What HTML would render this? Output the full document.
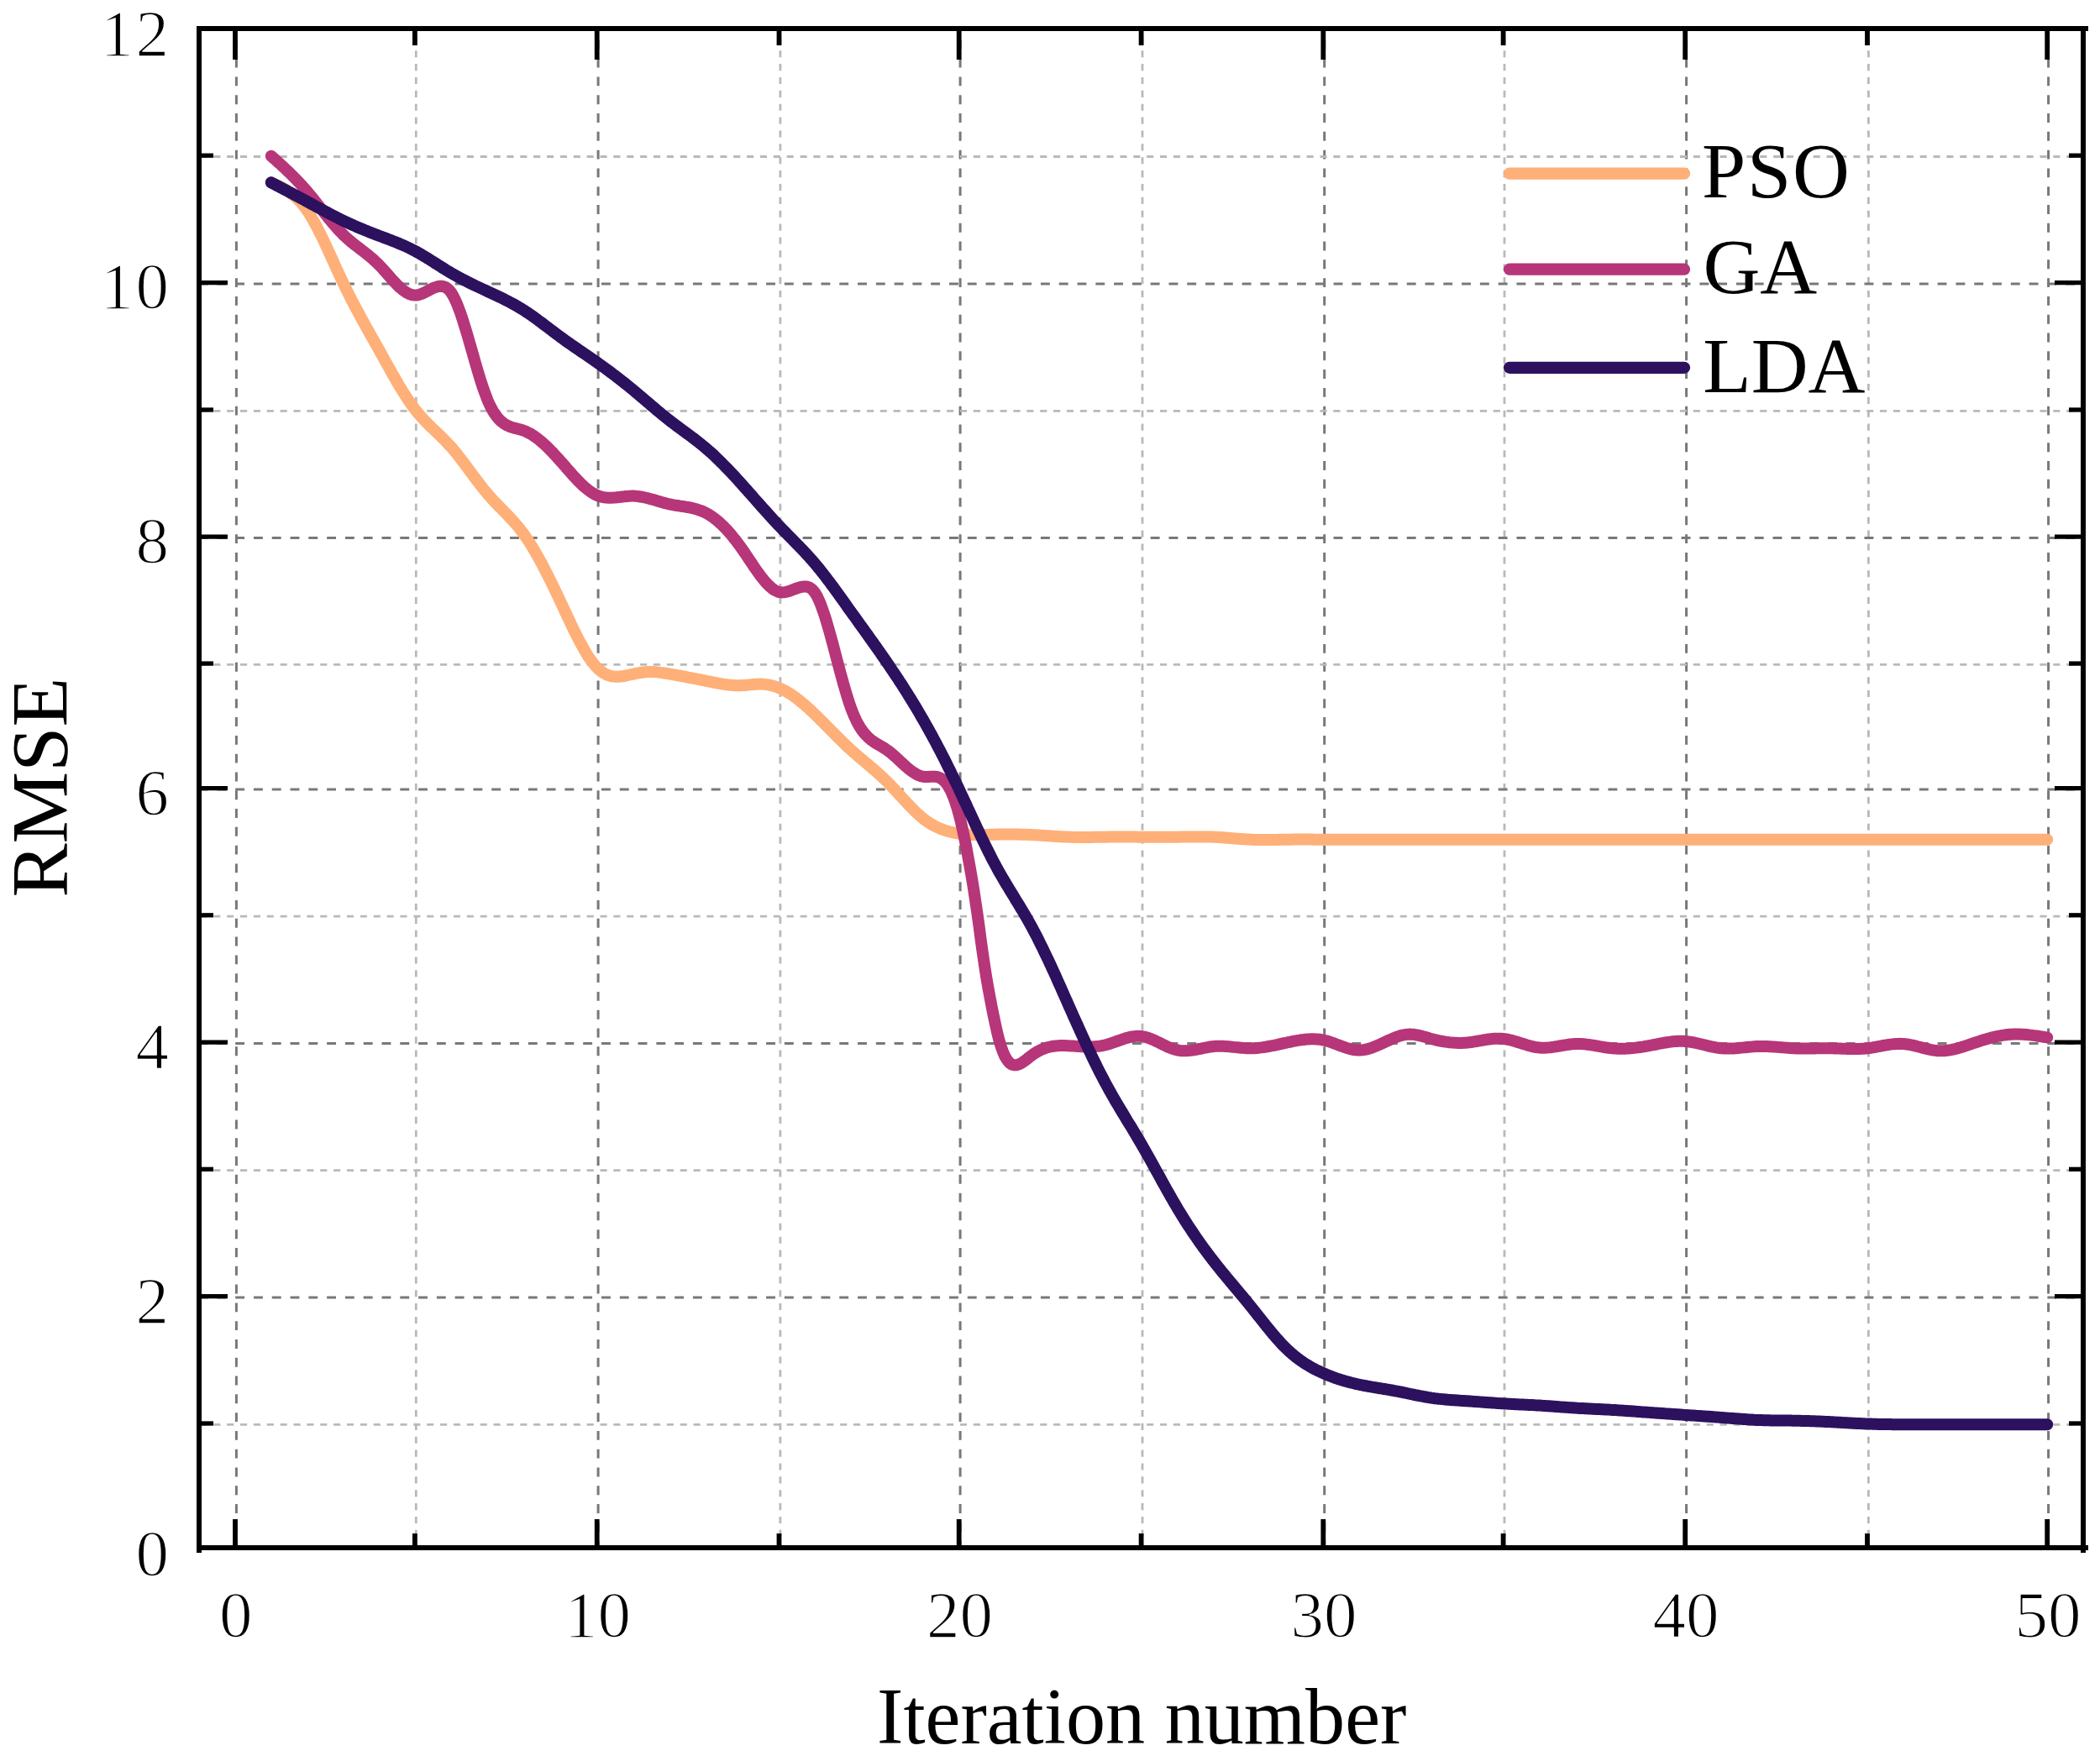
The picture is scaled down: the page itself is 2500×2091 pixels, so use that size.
<!DOCTYPE html>
<html lang="en">
<head>
<meta charset="utf-8">
<title>RMSE vs Iteration number</title>
<style>html,body{margin:0;padding:0;background:#fff}svg{display:block}</style>
</head>
<body>
<svg width="2500" height="2091" viewBox="0 0 2500 2091">
<rect width="2500" height="2091" fill="#ffffff"/>
<g fill="none" stroke-linecap="butt">
<line x1="281.4" y1="37.0" x2="281.4" y2="1840.0" stroke="#787878" stroke-width="3.0" stroke-dasharray="10.9 10.89" stroke-dashoffset="10.9"/>
<line x1="495.3" y1="37.0" x2="495.3" y2="1840.0" stroke="#b9b9b9" stroke-width="2.8" stroke-dasharray="8.1 7.77" stroke-dashoffset="8.5"/>
<line x1="712.1" y1="37.0" x2="712.1" y2="1840.0" stroke="#787878" stroke-width="3.0" stroke-dasharray="10.9 10.89" stroke-dashoffset="10.9"/>
<line x1="928.9" y1="37.0" x2="928.9" y2="1840.0" stroke="#b9b9b9" stroke-width="2.8" stroke-dasharray="8.1 7.77" stroke-dashoffset="8.5"/>
<line x1="1143.1" y1="37.0" x2="1143.1" y2="1840.0" stroke="#787878" stroke-width="3.0" stroke-dasharray="10.9 10.89" stroke-dashoffset="10.9"/>
<line x1="1360.0" y1="37.0" x2="1360.0" y2="1840.0" stroke="#b9b9b9" stroke-width="2.8" stroke-dasharray="8.1 7.77" stroke-dashoffset="8.5"/>
<line x1="1576.7" y1="37.0" x2="1576.7" y2="1840.0" stroke="#787878" stroke-width="3.0" stroke-dasharray="10.9 10.89" stroke-dashoffset="10.9"/>
<line x1="1791.0" y1="37.0" x2="1791.0" y2="1840.0" stroke="#b9b9b9" stroke-width="2.8" stroke-dasharray="8.1 7.77" stroke-dashoffset="8.5"/>
<line x1="2007.6" y1="37.0" x2="2007.6" y2="1840.0" stroke="#787878" stroke-width="3.0" stroke-dasharray="10.9 10.89" stroke-dashoffset="10.9"/>
<line x1="2224.4" y1="37.0" x2="2224.4" y2="1840.0" stroke="#b9b9b9" stroke-width="2.8" stroke-dasharray="8.1 7.77" stroke-dashoffset="8.5"/>
<line x1="2438.6" y1="37.0" x2="2438.6" y2="1840.0" stroke="#787878" stroke-width="3.0" stroke-dasharray="10.9 10.89" stroke-dashoffset="10.9"/>
<line x1="240.0" y1="1696.3" x2="2477.0" y2="1696.3" stroke="#b9b9b9" stroke-width="2.8" stroke-dasharray="8.1 7.77" stroke-dashoffset="1.6"/>
<line x1="240.0" y1="1545.0" x2="2477.0" y2="1545.0" stroke="#787878" stroke-width="3.0" stroke-dasharray="10.9 10.89" stroke-dashoffset="3.4"/>
<line x1="240.0" y1="1393.6" x2="2477.0" y2="1393.6" stroke="#b9b9b9" stroke-width="2.8" stroke-dasharray="8.1 7.77" stroke-dashoffset="1.6"/>
<line x1="240.0" y1="1242.4" x2="2477.0" y2="1242.4" stroke="#787878" stroke-width="3.0" stroke-dasharray="10.9 10.89" stroke-dashoffset="3.4"/>
<line x1="240.0" y1="1091.1" x2="2477.0" y2="1091.1" stroke="#b9b9b9" stroke-width="2.8" stroke-dasharray="8.1 7.77" stroke-dashoffset="1.6"/>
<line x1="240.0" y1="940.0" x2="2477.0" y2="940.0" stroke="#787878" stroke-width="3.0" stroke-dasharray="10.9 10.89" stroke-dashoffset="3.4"/>
<line x1="240.0" y1="791.4" x2="2477.0" y2="791.4" stroke="#b9b9b9" stroke-width="2.8" stroke-dasharray="8.1 7.77" stroke-dashoffset="1.6"/>
<line x1="240.0" y1="640.4" x2="2477.0" y2="640.4" stroke="#787878" stroke-width="3.0" stroke-dasharray="10.9 10.89" stroke-dashoffset="3.4"/>
<line x1="240.0" y1="489.3" x2="2477.0" y2="489.3" stroke="#b9b9b9" stroke-width="2.8" stroke-dasharray="8.1 7.77" stroke-dashoffset="1.6"/>
<line x1="240.0" y1="337.9" x2="2477.0" y2="337.9" stroke="#787878" stroke-width="3.0" stroke-dasharray="10.9 10.89" stroke-dashoffset="3.4"/>
<line x1="240.0" y1="186.5" x2="2477.0" y2="186.5" stroke="#b9b9b9" stroke-width="2.8" stroke-dasharray="8.1 7.77" stroke-dashoffset="1.6"/>
</g>
<g fill="none" stroke-width="14" stroke-linecap="round" stroke-linejoin="round">
<polyline stroke="#feb078" points="322.8,217.3 324.9,218.3 327.1,219.2 329.2,220.2 331.3,221.2 333.5,222.2 335.6,223.3 337.8,224.5 339.9,225.7 342.0,227.1 344.2,228.5 346.3,230.0 348.4,231.7 350.6,233.4 352.7,235.4 354.9,237.5 357.0,239.7 359.1,242.1 361.3,244.7 363.4,247.5 365.6,250.5 367.7,253.7 369.8,257.2 372.0,260.8 374.1,264.6 376.3,268.5 378.4,272.6 380.5,276.8 382.7,281.2 384.8,285.6 387.0,290.1 389.1,294.7 391.2,299.3 393.4,304.0 395.5,308.7 397.6,313.4 399.8,318.1 401.9,322.8 404.1,327.4 406.2,332.0 408.3,336.5 410.5,340.9 412.6,345.3 414.8,349.6 416.9,353.8 419.0,358.0 421.2,362.1 423.3,366.2 425.5,370.2 427.6,374.1 429.7,378.1 431.9,382.0 434.0,385.8 436.1,389.7 438.3,393.5 440.4,397.4 442.6,401.2 444.7,405.0 446.8,408.8 449.0,412.6 451.1,416.4 453.3,420.3 455.4,424.1 457.5,428.0 459.7,431.9 461.8,435.7 464.0,439.5 466.1,443.3 468.2,447.1 470.4,450.8 472.5,454.5 474.6,458.2 476.8,461.7 478.9,465.3 481.1,468.7 483.2,472.0 485.3,475.3 487.5,478.5 489.6,481.5 491.8,484.5 493.9,487.3 496.1,490.0 498.2,492.7 500.4,495.2 502.6,497.6 504.7,499.9 506.9,502.2 509.1,504.4 511.2,506.5 513.4,508.7 515.6,510.8 517.7,512.8 519.9,514.9 522.1,517.0 524.3,519.1 526.4,521.2 528.6,523.4 530.8,525.6 532.9,527.8 535.1,530.2 537.3,532.6 539.4,535.1 541.6,537.7 543.8,540.3 545.9,543.1 548.1,545.8 550.3,548.7 552.4,551.5 554.6,554.4 556.8,557.4 558.9,560.3 561.1,563.2 563.3,566.2 565.4,569.1 567.6,572.0 569.8,574.8 571.9,577.7 574.1,580.4 576.3,583.2 578.5,585.8 580.6,588.4 582.8,590.9 585.0,593.3 587.1,595.7 589.3,598.0 591.5,600.2 593.6,602.5 595.8,604.7 598.0,606.9 600.1,609.1 602.3,611.3 604.5,613.6 606.6,615.8 608.8,618.2 611.0,620.5 613.1,623.0 615.3,625.5 617.5,628.1 619.6,630.9 621.8,633.7 624.0,636.7 626.1,639.7 628.3,642.9 630.5,646.3 632.7,649.7 634.8,653.3 637.0,657.0 639.2,660.7 641.3,664.6 643.5,668.5 645.7,672.6 647.8,676.7 650.0,680.9 652.2,685.2 654.3,689.5 656.5,693.9 658.7,698.4 660.8,702.9 663.0,707.4 665.2,712.0 667.3,716.6 669.5,721.2 671.7,725.9 673.8,730.5 676.0,735.2 678.2,739.8 680.3,744.4 682.5,748.9 684.7,753.3 686.9,757.6 689.0,761.8 691.2,765.9 693.4,769.9 695.5,773.7 697.7,777.4 699.9,780.9 702.0,784.2 704.2,787.2 706.4,790.1 708.5,792.7 710.7,795.0 712.9,797.1 715.0,798.9 717.2,800.5 719.4,801.9 721.5,803.0 723.7,803.9 725.9,804.6 728.0,805.2 730.2,805.5 732.4,805.7 734.5,805.8 736.7,805.7 738.9,805.5 741.1,805.3 743.2,804.9 745.4,804.5 747.6,804.0 749.7,803.5 751.9,803.0 754.1,802.6 756.2,802.1 758.4,801.7 760.6,801.3 762.7,801.0 764.9,800.7 767.1,800.4 769.2,800.2 771.4,800.1 773.6,800.0 775.7,800.0 777.9,800.1 780.1,800.2 782.2,800.4 784.4,800.6 786.6,800.9 788.7,801.1 790.9,801.5 793.1,801.8 795.3,802.2 797.4,802.6 799.6,802.9 801.8,803.3 803.9,803.7 806.1,804.1 808.3,804.5 810.4,804.9 812.6,805.3 814.8,805.7 816.9,806.1 819.1,806.6 821.3,807.0 823.4,807.4 825.6,807.8 827.8,808.2 829.9,808.7 832.1,809.1 834.3,809.5 836.4,810.0 838.6,810.4 840.8,810.9 842.9,811.3 845.1,811.7 847.3,812.2 849.5,812.6 851.6,813.0 853.8,813.4 856.0,813.8 858.1,814.2 860.3,814.6 862.5,814.9 864.6,815.2 866.8,815.5 869.0,815.7 871.1,815.9 873.3,816.0 875.5,816.2 877.6,816.2 879.8,816.3 882.0,816.2 884.1,816.1 886.3,816.0 888.5,815.8 890.6,815.6 892.8,815.4 895.0,815.2 897.1,815.0 899.3,814.8 901.5,814.7 903.7,814.6 905.8,814.6 908.0,814.7 910.2,814.9 912.3,815.1 914.5,815.4 916.7,815.9 918.8,816.3 921.0,816.9 923.2,817.6 925.3,818.3 927.5,819.2 929.6,820.1 931.8,821.1 933.9,822.2 936.1,823.4 938.2,824.7 940.4,826.0 942.5,827.4 944.6,828.9 946.8,830.4 948.9,832.0 951.1,833.7 953.2,835.4 955.3,837.2 957.5,839.0 959.6,840.9 961.8,842.8 963.9,844.8 966.1,846.8 968.2,848.8 970.3,850.8 972.5,852.9 974.6,855.0 976.8,857.1 978.9,859.3 981.1,861.4 983.2,863.6 985.3,865.7 987.5,867.9 989.6,870.1 991.8,872.2 993.9,874.4 996.0,876.6 998.2,878.7 1000.3,880.8 1002.5,882.9 1004.6,885.0 1006.8,887.1 1008.9,889.1 1011.0,891.1 1013.2,893.1 1015.3,895.0 1017.5,896.9 1019.6,898.8 1021.7,900.6 1023.9,902.4 1026.0,904.2 1028.2,906.0 1030.3,907.8 1032.5,909.6 1034.6,911.4 1036.7,913.2 1038.9,915.1 1041.0,916.9 1043.2,918.8 1045.3,920.7 1047.5,922.6 1049.6,924.6 1051.7,926.6 1053.9,928.7 1056.0,930.8 1058.2,932.9 1060.3,935.2 1062.4,937.4 1064.6,939.7 1066.7,942.0 1068.9,944.4 1071.0,946.7 1073.2,949.1 1075.3,951.4 1077.4,953.7 1079.6,956.0 1081.7,958.3 1083.9,960.5 1086.0,962.7 1088.2,964.9 1090.3,967.0 1092.4,969.0 1094.6,970.9 1096.7,972.8 1098.9,974.5 1101.0,976.2 1103.1,977.7 1105.3,979.2 1107.4,980.6 1109.6,981.9 1111.7,983.1 1113.9,984.2 1116.0,985.2 1118.1,986.2 1120.3,987.1 1122.4,987.9 1124.6,988.6 1126.7,989.3 1128.8,990.0 1131.0,990.5 1133.1,991.0 1135.3,991.5 1137.4,991.9 1139.6,992.3 1141.7,992.6 1143.9,992.9 1146.0,993.1 1148.2,993.3 1150.4,993.5 1152.5,993.7 1154.7,993.8 1156.9,993.9 1159.1,993.9 1161.2,994.0 1163.4,994.0 1165.6,994.0 1167.7,994.0 1169.9,994.0 1172.1,994.0 1174.2,993.9 1176.4,993.9 1178.6,993.8 1180.7,993.8 1182.9,993.7 1185.1,993.7 1187.2,993.6 1189.4,993.6 1191.6,993.6 1193.8,993.5 1195.9,993.5 1198.1,993.5 1200.3,993.5 1202.4,993.5 1204.6,993.5 1206.8,993.5 1208.9,993.5 1211.1,993.6 1213.3,993.6 1215.4,993.7 1217.6,993.7 1219.8,993.8 1222.0,993.8 1224.1,993.9 1226.3,994.0 1228.5,994.1 1230.6,994.2 1232.8,994.3 1235.0,994.5 1237.1,994.6 1239.3,994.7 1241.5,994.9 1243.6,995.0 1245.8,995.2 1248.0,995.3 1250.2,995.5 1252.3,995.6 1254.5,995.8 1256.7,995.9 1258.8,996.0 1261.0,996.2 1263.2,996.3 1265.3,996.4 1267.5,996.5 1269.7,996.6 1271.8,996.7 1274.0,996.8 1276.2,996.8 1278.3,996.9 1280.5,996.9 1282.7,996.9 1284.9,996.9 1287.0,996.9 1289.2,996.9 1291.4,996.9 1293.5,996.9 1295.7,996.9 1297.9,996.9 1300.0,996.9 1302.2,996.8 1304.4,996.8 1306.5,996.8 1308.7,996.8 1310.9,996.7 1313.1,996.7 1315.2,996.7 1317.4,996.7 1319.6,996.6 1321.7,996.6 1323.9,996.6 1326.1,996.6 1328.2,996.6 1330.4,996.6 1332.6,996.6 1334.7,996.6 1336.9,996.6 1339.1,996.6 1341.2,996.6 1343.4,996.6 1345.6,996.6 1347.8,996.6 1349.9,996.6 1352.1,996.6 1354.3,996.7 1356.4,996.7 1358.6,996.7 1360.8,996.7 1362.9,996.7 1365.1,996.7 1367.3,996.7 1369.4,996.7 1371.6,996.8 1373.8,996.8 1375.9,996.8 1378.1,996.8 1380.3,996.8 1382.4,996.8 1384.6,996.8 1386.8,996.8 1388.9,996.8 1391.1,996.8 1393.3,996.8 1395.4,996.7 1397.6,996.7 1399.8,996.7 1401.9,996.7 1404.1,996.7 1406.3,996.6 1408.4,996.6 1410.6,996.6 1412.8,996.5 1414.9,996.5 1417.1,996.4 1419.3,996.4 1421.4,996.4 1423.6,996.4 1425.8,996.4 1427.9,996.4 1430.1,996.4 1432.3,996.4 1434.4,996.4 1436.6,996.4 1438.8,996.5 1440.9,996.5 1443.1,996.6 1445.3,996.7 1447.4,996.8 1449.6,996.9 1451.8,997.0 1453.9,997.2 1456.1,997.3 1458.3,997.5 1460.4,997.7 1462.6,997.8 1464.8,998.0 1467.0,998.2 1469.1,998.4 1471.3,998.5 1473.5,998.7 1475.6,998.9 1477.8,999.0 1480.0,999.2 1482.1,999.3 1484.3,999.5 1486.5,999.6 1488.6,999.7 1490.8,999.8 1493.0,999.9 1495.1,999.9 1497.3,1000.0 1499.5,1000.0 1501.6,1000.0 1503.8,1000.0 1506.0,1000.0 1508.1,1000.0 1510.3,1000.0 1512.5,1000.0 1514.6,1000.0 1516.8,999.9 1519.0,999.9 1521.1,999.9 1523.3,999.8 1525.5,999.8 1527.6,999.8 1529.8,999.7 1532.0,999.7 1534.1,999.7 1536.3,999.7 1538.5,999.6 1540.6,999.6 1542.8,999.6 1545.0,999.6 1547.1,999.6 1549.3,999.6 1551.5,999.6 1553.6,999.6 1555.8,999.6 1558.0,999.6 1560.1,999.6 1562.3,999.6 1564.5,999.7 1566.6,999.7 1568.8,999.7 1571.0,999.7 1573.1,999.7 1575.3,999.7 1577.4,999.7 1579.6,999.7 1581.7,999.7 1583.9,999.7 1586.0,999.7 1588.2,999.7 1590.3,999.7 1592.4,999.7 1594.6,999.7 1596.7,999.7 1598.9,999.7 1601.0,999.7 1603.2,999.7 1605.3,999.7 1607.4,999.7 1609.6,999.7 1611.7,999.7 1613.9,999.7 1616.0,999.7 1618.2,999.7 1620.3,999.7 1622.4,999.7 1624.6,999.7 1626.7,999.7 1628.9,999.7 1631.0,999.7 1633.2,999.7 1635.3,999.7 1637.4,999.7 1639.6,999.7 1641.7,999.7 1643.9,999.7 1646.0,999.7 1648.2,999.7 1650.3,999.7 1652.4,999.7 1654.6,999.7 1656.7,999.7 1658.9,999.7 1661.0,999.7 1663.2,999.7 1665.3,999.7 1667.4,999.7 1669.6,999.7 1671.7,999.7 1673.9,999.7 1676.0,999.7 1678.2,999.7 1680.3,999.7 1682.5,999.7 1684.6,999.7 1686.7,999.7 1688.9,999.7 1691.0,999.7 1693.2,999.7 1695.3,999.7 1697.5,999.7 1699.6,999.7 1701.7,999.7 1703.9,999.7 1706.0,999.7 1708.2,999.7 1710.3,999.7 1712.5,999.7 1714.6,999.7 1716.7,999.7 1718.9,999.7 1721.0,999.7 1723.2,999.7 1725.3,999.7 1727.5,999.7 1729.6,999.7 1731.7,999.7 1733.9,999.7 1736.0,999.7 1738.2,999.7 1740.3,999.7 1742.5,999.7 1744.6,999.7 1746.7,999.7 1748.9,999.7 1751.0,999.7 1753.2,999.7 1755.3,999.7 1757.5,999.7 1759.6,999.7 1761.7,999.7 1763.9,999.7 1766.0,999.7 1768.2,999.7 1770.3,999.7 1772.5,999.7 1774.6,999.7 1776.7,999.7 1778.9,999.7 1781.0,999.7 1783.2,999.7 1785.3,999.7 1787.5,999.7 1789.6,999.7 1791.8,999.7 1793.9,999.7 1796.1,999.7 1798.3,999.7 1800.4,999.7 1802.6,999.7 1804.8,999.7 1806.9,999.7 1809.1,999.7 1811.3,999.7 1813.4,999.7 1815.6,999.7 1817.8,999.7 1819.9,999.7 1822.1,999.7 1824.3,999.7 1826.4,999.7 1828.6,999.7 1830.8,999.7 1832.9,999.7 1835.1,999.7 1837.3,999.7 1839.4,999.7 1841.6,999.7 1843.8,999.7 1845.9,999.7 1848.1,999.7 1850.2,999.7 1852.4,999.7 1854.6,999.7 1856.7,999.7 1858.9,999.7 1861.1,999.7 1863.2,999.7 1865.4,999.7 1867.6,999.7 1869.7,999.7 1871.9,999.7 1874.1,999.7 1876.2,999.7 1878.4,999.7 1880.6,999.7 1882.7,999.7 1884.9,999.7 1887.1,999.7 1889.2,999.7 1891.4,999.7 1893.6,999.7 1895.7,999.7 1897.9,999.7 1900.1,999.7 1902.2,999.7 1904.4,999.7 1906.6,999.7 1908.7,999.7 1910.9,999.7 1913.1,999.7 1915.2,999.7 1917.4,999.7 1919.6,999.7 1921.7,999.7 1923.9,999.7 1926.1,999.7 1928.2,999.7 1930.4,999.7 1932.6,999.7 1934.7,999.7 1936.9,999.7 1939.1,999.7 1941.2,999.7 1943.4,999.7 1945.6,999.7 1947.7,999.7 1949.9,999.7 1952.1,999.7 1954.2,999.7 1956.4,999.7 1958.5,999.7 1960.7,999.7 1962.9,999.7 1965.0,999.7 1967.2,999.7 1969.4,999.7 1971.5,999.7 1973.7,999.7 1975.9,999.7 1978.0,999.7 1980.2,999.7 1982.4,999.7 1984.5,999.7 1986.7,999.7 1988.9,999.7 1991.0,999.7 1993.2,999.7 1995.4,999.7 1997.5,999.7 1999.7,999.7 2001.9,999.7 2004.0,999.7 2006.2,999.7 2008.4,999.7 2010.5,999.7 2012.7,999.7 2014.9,999.7 2017.0,999.7 2019.2,999.7 2021.4,999.7 2023.5,999.7 2025.7,999.7 2027.9,999.7 2030.0,999.7 2032.2,999.7 2034.4,999.7 2036.6,999.7 2038.7,999.7 2040.9,999.7 2043.1,999.7 2045.2,999.7 2047.4,999.7 2049.6,999.7 2051.7,999.7 2053.9,999.7 2056.1,999.7 2058.2,999.7 2060.4,999.7 2062.6,999.7 2064.7,999.7 2066.9,999.7 2069.1,999.7 2071.2,999.7 2073.4,999.7 2075.6,999.7 2077.7,999.7 2079.9,999.7 2082.1,999.7 2084.2,999.7 2086.4,999.7 2088.6,999.7 2090.8,999.7 2092.9,999.7 2095.1,999.7 2097.3,999.7 2099.4,999.7 2101.6,999.7 2103.8,999.7 2105.9,999.7 2108.1,999.7 2110.3,999.7 2112.4,999.7 2114.6,999.7 2116.8,999.7 2118.9,999.7 2121.1,999.7 2123.3,999.7 2125.4,999.7 2127.6,999.7 2129.8,999.7 2131.9,999.7 2134.1,999.7 2136.3,999.7 2138.4,999.7 2140.6,999.7 2142.8,999.7 2145.0,999.7 2147.1,999.7 2149.3,999.7 2151.5,999.7 2153.6,999.7 2155.8,999.7 2158.0,999.7 2160.1,999.7 2162.3,999.7 2164.5,999.7 2166.6,999.7 2168.8,999.7 2171.0,999.7 2173.1,999.7 2175.3,999.7 2177.5,999.7 2179.6,999.7 2181.8,999.7 2184.0,999.7 2186.1,999.7 2188.3,999.7 2190.5,999.7 2192.6,999.7 2194.8,999.7 2197.0,999.7 2199.2,999.7 2201.3,999.7 2203.5,999.7 2205.7,999.7 2207.8,999.7 2210.0,999.7 2212.2,999.7 2214.3,999.7 2216.5,999.7 2218.7,999.7 2220.8,999.7 2223.0,999.7 2225.1,999.7 2227.3,999.7 2229.4,999.7 2231.6,999.7 2233.7,999.7 2235.9,999.7 2238.0,999.7 2240.1,999.7 2242.3,999.7 2244.4,999.7 2246.6,999.7 2248.7,999.7 2250.8,999.7 2253.0,999.7 2255.1,999.7 2257.3,999.7 2259.4,999.7 2261.6,999.7 2263.7,999.7 2265.8,999.7 2268.0,999.7 2270.1,999.7 2272.3,999.7 2274.4,999.7 2276.6,999.7 2278.7,999.7 2280.8,999.7 2283.0,999.7 2285.1,999.7 2287.3,999.7 2289.4,999.7 2291.5,999.7 2293.7,999.7 2295.8,999.7 2298.0,999.7 2300.1,999.7 2302.3,999.7 2304.4,999.7 2306.5,999.7 2308.7,999.7 2310.8,999.7 2313.0,999.7 2315.1,999.7 2317.2,999.7 2319.4,999.7 2321.5,999.7 2323.7,999.7 2325.8,999.7 2328.0,999.7 2330.1,999.7 2332.2,999.7 2334.4,999.7 2336.5,999.7 2338.7,999.7 2340.8,999.7 2343.0,999.7 2345.1,999.7 2347.2,999.7 2349.4,999.7 2351.5,999.7 2353.7,999.7 2355.8,999.7 2357.9,999.7 2360.1,999.7 2362.2,999.7 2364.4,999.7 2366.5,999.7 2368.7,999.7 2370.8,999.7 2372.9,999.7 2375.1,999.7 2377.2,999.7 2379.4,999.7 2381.5,999.7 2383.7,999.7 2385.8,999.7 2387.9,999.7 2390.1,999.7 2392.2,999.7 2394.4,999.7 2396.5,999.7 2398.6,999.7 2400.8,999.7 2402.9,999.7 2405.1,999.7 2407.2,999.7 2409.4,999.7 2411.5,999.7 2413.6,999.7 2415.8,999.7 2417.9,999.7 2420.1,999.7 2422.2,999.7 2424.3,999.7 2426.5,999.7 2428.6,999.7 2430.8,999.7 2432.9,999.7 2435.1,999.7 2437.2,999.7"/>
<polyline stroke="#b63679" points="322.8,185.7 324.9,187.6 327.1,189.5 329.2,191.4 331.3,193.4 333.5,195.3 335.6,197.3 337.8,199.3 339.9,201.3 342.0,203.3 344.2,205.3 346.3,207.4 348.4,209.5 350.6,211.7 352.7,213.8 354.9,216.1 357.0,218.3 359.1,220.7 361.3,223.0 363.4,225.4 365.6,227.9 367.7,230.4 369.8,233.0 372.0,235.6 374.1,238.3 376.3,241.0 378.4,243.7 380.5,246.4 382.7,249.1 384.8,251.8 387.0,254.5 389.1,257.2 391.2,259.9 393.4,262.5 395.5,265.1 397.6,267.6 399.8,270.0 401.9,272.5 404.1,274.8 406.2,277.0 408.3,279.2 410.5,281.2 412.6,283.2 414.8,285.1 416.9,287.0 419.0,288.7 421.2,290.5 423.3,292.2 425.5,293.8 427.6,295.5 429.7,297.1 431.9,298.8 434.0,300.4 436.1,302.1 438.3,303.8 440.4,305.6 442.6,307.4 444.7,309.3 446.8,311.2 449.0,313.3 451.1,315.4 453.3,317.6 455.4,319.9 457.5,322.3 459.7,324.7 461.8,327.1 464.0,329.6 466.1,332.0 468.2,334.4 470.4,336.7 472.5,338.9 474.6,341.0 476.8,343.0 478.9,344.8 481.1,346.4 483.2,347.9 485.3,349.1 487.5,350.2 489.6,350.9 491.8,351.4 493.9,351.6 496.1,351.5 498.2,351.1 500.4,350.4 502.6,349.6 504.7,348.6 506.9,347.6 509.1,346.5 511.2,345.3 513.4,344.2 515.6,343.2 517.7,342.3 519.9,341.6 522.1,341.0 524.3,340.8 526.4,340.8 528.6,341.3 530.8,342.2 532.9,343.7 535.1,345.8 537.3,348.6 539.4,352.1 541.6,356.4 543.8,361.3 545.9,366.7 548.1,372.7 550.3,379.1 552.4,385.8 554.6,392.9 556.8,400.2 558.9,407.7 561.1,415.2 563.3,422.8 565.4,430.4 567.6,437.9 569.8,445.2 571.9,452.2 574.1,459.0 576.3,465.4 578.5,471.3 580.6,476.8 582.8,481.7 585.0,486.0 587.1,489.9 589.3,493.3 591.5,496.2 593.6,498.8 595.8,501.0 598.0,502.8 600.1,504.4 602.3,505.8 604.5,506.9 606.6,507.8 608.8,508.6 611.0,509.3 613.1,509.9 615.3,510.4 617.5,511.0 619.6,511.6 621.8,512.2 624.0,513.0 626.1,513.8 628.3,514.9 630.5,516.0 632.7,517.2 634.8,518.6 637.0,520.1 639.2,521.7 641.3,523.3 643.5,525.1 645.7,527.0 647.8,528.9 650.0,530.9 652.2,533.0 654.3,535.2 656.5,537.4 658.7,539.7 660.8,542.0 663.0,544.3 665.2,546.7 667.3,549.2 669.5,551.6 671.7,554.1 673.8,556.6 676.0,559.1 678.2,561.5 680.3,564.0 682.5,566.4 684.7,568.8 686.9,571.1 689.0,573.3 691.2,575.5 693.4,577.6 695.5,579.6 697.7,581.4 699.9,583.2 702.0,584.8 704.2,586.3 706.4,587.7 708.5,588.9 710.7,589.9 712.9,590.7 715.0,591.4 717.2,591.9 719.4,592.3 721.5,592.6 723.7,592.7 725.9,592.8 728.0,592.8 730.2,592.6 732.4,592.5 734.5,592.3 736.7,592.0 738.9,591.8 741.1,591.5 743.2,591.3 745.4,591.0 747.6,590.9 749.7,590.7 751.9,590.6 754.1,590.6 756.2,590.7 758.4,590.9 760.6,591.2 762.7,591.5 764.9,591.9 767.1,592.3 769.2,592.8 771.4,593.3 773.6,593.9 775.7,594.5 777.9,595.1 780.1,595.7 782.2,596.4 784.4,597.0 786.6,597.7 788.7,598.3 790.9,598.9 793.1,599.4 795.3,600.0 797.4,600.5 799.6,600.9 801.8,601.3 803.9,601.7 806.1,602.0 808.3,602.3 810.4,602.7 812.6,603.0 814.8,603.3 816.9,603.7 819.1,604.0 821.3,604.4 823.4,604.9 825.6,605.4 827.8,606.0 829.9,606.6 832.1,607.3 834.3,608.1 836.4,608.9 838.6,609.9 840.8,611.0 842.9,612.2 845.1,613.5 847.3,615.0 849.5,616.5 851.6,618.1 853.8,619.9 856.0,621.8 858.1,623.7 860.3,625.8 862.5,628.0 864.6,630.2 866.8,632.6 869.0,635.1 871.1,637.6 873.3,640.3 875.5,643.0 877.6,645.8 879.8,648.7 882.0,651.7 884.1,654.8 886.3,657.9 888.5,661.1 890.6,664.3 892.8,667.6 895.0,670.8 897.1,674.1 899.3,677.2 901.5,680.4 903.7,683.4 905.8,686.3 908.0,689.1 910.2,691.7 912.3,694.2 914.5,696.5 916.7,698.5 918.8,700.4 921.0,702.0 923.2,703.3 925.3,704.3 927.5,705.0 929.6,705.3 931.8,705.4 933.9,705.2 936.1,704.8 938.2,704.3 940.4,703.6 942.5,702.8 944.6,702.0 946.8,701.2 948.9,700.4 951.1,699.7 953.2,699.1 955.3,698.7 957.5,698.4 959.6,698.5 961.8,698.9 963.9,699.8 966.1,701.2 968.2,703.2 970.3,706.0 972.5,709.6 974.6,714.0 976.8,719.1 978.9,724.8 981.1,731.0 983.2,737.7 985.3,744.9 987.5,752.4 989.6,760.1 991.8,768.1 993.9,776.2 996.0,784.3 998.2,792.5 1000.3,800.5 1002.5,808.4 1004.6,816.1 1006.8,823.5 1008.9,830.6 1011.0,837.2 1013.2,843.3 1015.3,848.8 1017.5,853.9 1019.6,858.4 1021.7,862.4 1023.9,866.1 1026.0,869.3 1028.2,872.2 1030.3,874.7 1032.5,877.0 1034.6,879.0 1036.7,880.8 1038.9,882.4 1041.0,883.9 1043.2,885.2 1045.3,886.5 1047.5,887.8 1049.6,889.0 1051.7,890.3 1053.9,891.6 1056.0,893.1 1058.2,894.6 1060.3,896.3 1062.4,898.1 1064.6,900.0 1066.7,901.9 1068.9,903.9 1071.0,905.9 1073.2,907.9 1075.3,909.9 1077.4,911.8 1079.6,913.7 1081.7,915.5 1083.9,917.2 1086.0,918.8 1088.2,920.2 1090.3,921.5 1092.4,922.7 1094.6,923.6 1096.7,924.3 1098.9,924.7 1101.0,925.0 1103.1,925.0 1105.3,924.9 1107.4,924.8 1109.6,924.7 1111.7,924.7 1113.9,924.8 1116.0,925.2 1118.1,925.9 1120.3,927.0 1122.4,928.5 1124.6,930.5 1126.7,933.0 1128.8,936.2 1131.0,939.9 1133.1,944.4 1135.3,949.6 1137.4,955.5 1139.6,962.3 1141.7,970.0 1143.9,978.6 1146.0,988.0 1148.2,998.2 1150.4,1009.1 1152.5,1020.7 1154.7,1032.8 1156.9,1045.4 1159.1,1058.7 1161.2,1072.7 1163.4,1087.6 1165.6,1103.3 1167.7,1119.3 1169.9,1135.1 1172.1,1150.0 1174.2,1163.6 1176.4,1176.2 1178.6,1188.0 1180.7,1199.2 1182.9,1210.0 1185.1,1220.2 1187.2,1229.8 1189.4,1238.4 1191.6,1245.8 1193.8,1251.9 1195.9,1257.0 1198.1,1260.9 1200.3,1263.9 1202.4,1266.1 1204.6,1267.5 1206.8,1268.2 1208.9,1268.3 1211.1,1268.0 1213.3,1267.2 1215.4,1266.2 1217.6,1264.8 1219.8,1263.3 1222.0,1261.7 1224.1,1259.9 1226.3,1258.2 1228.5,1256.6 1230.6,1255.0 1232.8,1253.6 1235.0,1252.3 1237.1,1251.2 1239.3,1250.1 1241.5,1249.2 1243.6,1248.3 1245.8,1247.6 1248.0,1247.0 1250.2,1246.5 1252.3,1246.0 1254.5,1245.7 1256.7,1245.4 1258.8,1245.3 1261.0,1245.1 1263.2,1245.1 1265.3,1245.1 1267.5,1245.1 1269.7,1245.2 1271.8,1245.3 1274.0,1245.4 1276.2,1245.5 1278.3,1245.6 1280.5,1245.8 1282.7,1245.9 1284.9,1246.0 1287.0,1246.2 1289.2,1246.3 1291.4,1246.4 1293.5,1246.4 1295.7,1246.4 1297.9,1246.4 1300.0,1246.4 1302.2,1246.3 1304.4,1246.1 1306.5,1245.9 1308.7,1245.7 1310.9,1245.4 1313.1,1245.0 1315.2,1244.5 1317.4,1243.9 1319.6,1243.3 1321.7,1242.7 1323.9,1241.9 1326.1,1241.2 1328.2,1240.4 1330.4,1239.6 1332.6,1238.8 1334.7,1238.1 1336.9,1237.3 1339.1,1236.6 1341.2,1236.0 1343.4,1235.4 1345.6,1234.9 1347.8,1234.4 1349.9,1234.1 1352.1,1233.9 1354.3,1233.7 1356.4,1233.8 1358.6,1233.9 1360.8,1234.3 1362.9,1234.7 1365.1,1235.3 1367.3,1236.0 1369.4,1236.8 1371.6,1237.7 1373.8,1238.6 1375.9,1239.6 1378.1,1240.7 1380.3,1241.7 1382.4,1242.8 1384.6,1243.9 1386.8,1244.9 1388.9,1246.0 1391.1,1246.9 1393.3,1247.8 1395.4,1248.7 1397.6,1249.4 1399.8,1250.0 1401.9,1250.5 1404.1,1250.9 1406.3,1251.2 1408.4,1251.3 1410.6,1251.3 1412.8,1251.2 1414.9,1251.1 1417.1,1250.9 1419.3,1250.6 1421.4,1250.2 1423.6,1249.9 1425.8,1249.4 1427.9,1249.0 1430.1,1248.6 1432.3,1248.1 1434.4,1247.7 1436.6,1247.3 1438.8,1246.9 1440.9,1246.5 1443.1,1246.2 1445.3,1246.0 1447.4,1245.8 1449.6,1245.8 1451.8,1245.7 1453.9,1245.7 1456.1,1245.8 1458.3,1245.9 1460.4,1246.1 1462.6,1246.2 1464.8,1246.4 1467.0,1246.7 1469.1,1246.9 1471.3,1247.1 1473.5,1247.3 1475.6,1247.5 1477.8,1247.7 1480.0,1247.9 1482.1,1248.1 1484.3,1248.2 1486.5,1248.2 1488.6,1248.3 1490.8,1248.2 1493.0,1248.2 1495.1,1248.0 1497.3,1247.9 1499.5,1247.6 1501.6,1247.4 1503.8,1247.1 1506.0,1246.8 1508.1,1246.4 1510.3,1246.0 1512.5,1245.6 1514.6,1245.2 1516.8,1244.8 1519.0,1244.3 1521.1,1243.9 1523.3,1243.4 1525.5,1242.9 1527.6,1242.4 1529.8,1242.0 1532.0,1241.5 1534.1,1241.0 1536.3,1240.6 1538.5,1240.1 1540.6,1239.7 1542.8,1239.3 1545.0,1238.9 1547.1,1238.6 1549.3,1238.2 1551.5,1238.0 1553.6,1237.7 1555.8,1237.5 1558.0,1237.4 1560.1,1237.3 1562.3,1237.3 1564.5,1237.3 1566.6,1237.4 1568.8,1237.5 1571.0,1237.7 1573.1,1238.1 1575.3,1238.5 1577.4,1239.0 1579.6,1239.5 1581.7,1240.2 1583.9,1240.9 1586.0,1241.6 1588.2,1242.4 1590.3,1243.2 1592.4,1244.0 1594.6,1244.8 1596.7,1245.7 1598.9,1246.4 1601.0,1247.2 1603.2,1247.9 1605.3,1248.5 1607.4,1249.1 1609.6,1249.6 1611.7,1250.0 1613.9,1250.3 1616.0,1250.5 1618.2,1250.5 1620.3,1250.4 1622.4,1250.2 1624.6,1249.9 1626.7,1249.5 1628.9,1248.9 1631.0,1248.3 1633.2,1247.6 1635.3,1246.8 1637.4,1245.9 1639.6,1245.0 1641.7,1244.1 1643.9,1243.1 1646.0,1242.1 1648.2,1241.1 1650.3,1240.1 1652.4,1239.1 1654.6,1238.2 1656.7,1237.2 1658.9,1236.3 1661.0,1235.4 1663.2,1234.6 1665.3,1233.9 1667.4,1233.2 1669.6,1232.7 1671.7,1232.2 1673.9,1231.9 1676.0,1231.7 1678.2,1231.6 1680.3,1231.7 1682.5,1231.8 1684.6,1232.1 1686.7,1232.5 1688.9,1232.9 1691.0,1233.4 1693.2,1233.9 1695.3,1234.5 1697.5,1235.1 1699.6,1235.7 1701.7,1236.4 1703.9,1237.0 1706.0,1237.5 1708.2,1238.1 1710.3,1238.6 1712.5,1239.1 1714.6,1239.5 1716.7,1239.9 1718.9,1240.3 1721.0,1240.6 1723.2,1240.9 1725.3,1241.2 1727.5,1241.4 1729.6,1241.6 1731.7,1241.7 1733.9,1241.8 1736.0,1241.9 1738.2,1241.9 1740.3,1241.9 1742.5,1241.8 1744.6,1241.7 1746.7,1241.5 1748.9,1241.3 1751.0,1241.0 1753.2,1240.7 1755.3,1240.3 1757.5,1240.0 1759.6,1239.6 1761.7,1239.2 1763.9,1238.9 1766.0,1238.5 1768.2,1238.1 1770.3,1237.8 1772.5,1237.5 1774.6,1237.2 1776.7,1237.0 1778.9,1236.8 1781.0,1236.7 1783.2,1236.7 1785.3,1236.7 1787.5,1236.8 1789.6,1237.0 1791.8,1237.2 1793.9,1237.6 1796.1,1238.0 1798.3,1238.5 1800.4,1239.1 1802.6,1239.7 1804.8,1240.3 1806.9,1241.0 1809.1,1241.7 1811.3,1242.3 1813.4,1243.0 1815.6,1243.7 1817.8,1244.4 1819.9,1245.0 1822.1,1245.6 1824.3,1246.1 1826.4,1246.6 1828.6,1247.0 1830.8,1247.3 1832.9,1247.5 1835.1,1247.7 1837.3,1247.7 1839.4,1247.7 1841.6,1247.6 1843.8,1247.4 1845.9,1247.2 1848.1,1246.9 1850.2,1246.6 1852.4,1246.2 1854.6,1245.9 1856.7,1245.5 1858.9,1245.1 1861.1,1244.8 1863.2,1244.4 1865.4,1244.1 1867.6,1243.8 1869.7,1243.5 1871.9,1243.3 1874.1,1243.1 1876.2,1243.0 1878.4,1243.0 1880.6,1243.0 1882.7,1243.1 1884.9,1243.2 1887.1,1243.4 1889.2,1243.7 1891.4,1243.9 1893.6,1244.3 1895.7,1244.6 1897.9,1244.9 1900.1,1245.3 1902.2,1245.7 1904.4,1246.1 1906.6,1246.4 1908.7,1246.8 1910.9,1247.2 1913.1,1247.5 1915.2,1247.8 1917.4,1248.0 1919.6,1248.3 1921.7,1248.4 1923.9,1248.6 1926.1,1248.7 1928.2,1248.7 1930.4,1248.7 1932.6,1248.7 1934.7,1248.7 1936.9,1248.6 1939.1,1248.4 1941.2,1248.3 1943.4,1248.1 1945.6,1247.9 1947.7,1247.6 1949.9,1247.3 1952.1,1247.0 1954.2,1246.7 1956.4,1246.4 1958.5,1246.0 1960.7,1245.6 1962.9,1245.3 1965.0,1244.8 1967.2,1244.4 1969.4,1244.0 1971.5,1243.6 1973.7,1243.1 1975.9,1242.7 1978.0,1242.3 1980.2,1241.9 1982.4,1241.5 1984.5,1241.2 1986.7,1240.9 1988.9,1240.6 1991.0,1240.3 1993.2,1240.1 1995.4,1240.0 1997.5,1239.8 1999.7,1239.8 2001.9,1239.8 2004.0,1239.8 2006.2,1240.0 2008.4,1240.2 2010.5,1240.4 2012.7,1240.8 2014.9,1241.1 2017.0,1241.5 2019.2,1242.0 2021.4,1242.5 2023.5,1243.0 2025.7,1243.5 2027.9,1244.0 2030.0,1244.5 2032.2,1245.1 2034.4,1245.6 2036.6,1246.1 2038.7,1246.5 2040.9,1247.0 2043.1,1247.4 2045.2,1247.7 2047.4,1248.0 2049.6,1248.3 2051.7,1248.4 2053.9,1248.5 2056.1,1248.6 2058.2,1248.6 2060.4,1248.6 2062.6,1248.5 2064.7,1248.4 2066.9,1248.2 2069.1,1248.0 2071.2,1247.8 2073.4,1247.6 2075.6,1247.4 2077.7,1247.2 2079.9,1247.0 2082.1,1246.8 2084.2,1246.6 2086.4,1246.4 2088.6,1246.2 2090.8,1246.1 2092.9,1246.0 2095.1,1245.9 2097.3,1245.9 2099.4,1245.9 2101.6,1246.0 2103.8,1246.1 2105.9,1246.2 2108.1,1246.3 2110.3,1246.4 2112.4,1246.6 2114.6,1246.7 2116.8,1246.9 2118.9,1247.1 2121.1,1247.2 2123.3,1247.4 2125.4,1247.6 2127.6,1247.7 2129.8,1247.9 2131.9,1248.0 2134.1,1248.2 2136.3,1248.3 2138.4,1248.4 2140.6,1248.4 2142.8,1248.5 2145.0,1248.5 2147.1,1248.5 2149.3,1248.5 2151.5,1248.5 2153.6,1248.5 2155.8,1248.4 2158.0,1248.4 2160.1,1248.4 2162.3,1248.3 2164.5,1248.3 2166.6,1248.3 2168.8,1248.2 2171.0,1248.2 2173.1,1248.2 2175.3,1248.2 2177.5,1248.2 2179.6,1248.3 2181.8,1248.3 2184.0,1248.4 2186.1,1248.4 2188.3,1248.5 2190.5,1248.6 2192.6,1248.7 2194.8,1248.8 2197.0,1248.8 2199.2,1248.9 2201.3,1249.0 2203.5,1249.0 2205.7,1249.0 2207.8,1249.1 2210.0,1249.0 2212.2,1249.0 2214.3,1248.9 2216.5,1248.8 2218.7,1248.7 2220.8,1248.5 2223.0,1248.3 2225.1,1248.0 2227.3,1247.7 2229.4,1247.4 2231.6,1247.0 2233.7,1246.6 2235.9,1246.2 2238.0,1245.8 2240.1,1245.4 2242.3,1245.0 2244.4,1244.6 2246.6,1244.3 2248.7,1243.9 2250.8,1243.6 2253.0,1243.4 2255.1,1243.2 2257.3,1243.0 2259.4,1242.9 2261.6,1242.8 2263.7,1242.9 2265.8,1243.0 2268.0,1243.2 2270.1,1243.5 2272.3,1243.8 2274.4,1244.2 2276.6,1244.6 2278.7,1245.1 2280.8,1245.6 2283.0,1246.2 2285.1,1246.7 2287.3,1247.3 2289.4,1247.9 2291.5,1248.4 2293.7,1248.9 2295.8,1249.4 2298.0,1249.9 2300.1,1250.3 2302.3,1250.7 2304.4,1250.9 2306.5,1251.2 2308.7,1251.3 2310.8,1251.3 2313.0,1251.3 2315.1,1251.2 2317.2,1250.9 2319.4,1250.7 2321.5,1250.3 2323.7,1249.9 2325.8,1249.5 2328.0,1249.0 2330.1,1248.4 2332.2,1247.8 2334.4,1247.2 2336.5,1246.5 2338.7,1245.8 2340.8,1245.1 2343.0,1244.4 2345.1,1243.7 2347.2,1242.9 2349.4,1242.2 2351.5,1241.5 2353.7,1240.8 2355.8,1240.1 2357.9,1239.4 2360.1,1238.7 2362.2,1238.0 2364.4,1237.4 2366.5,1236.8 2368.7,1236.2 2370.8,1235.6 2372.9,1235.1 2375.1,1234.6 2377.2,1234.1 2379.4,1233.7 2381.5,1233.3 2383.7,1232.9 2385.8,1232.6 2387.9,1232.3 2390.1,1232.0 2392.2,1231.8 2394.4,1231.7 2396.5,1231.6 2398.6,1231.5 2400.8,1231.5 2402.9,1231.5 2405.1,1231.6 2407.2,1231.7 2409.4,1231.8 2411.5,1232.0 2413.6,1232.1 2415.8,1232.4 2417.9,1232.6 2420.1,1232.9 2422.2,1233.1 2424.3,1233.4 2426.5,1233.8 2428.6,1234.1 2430.8,1234.4 2432.9,1234.8 2435.1,1235.1 2437.2,1235.4"/>
<polyline stroke="#2c115f" points="322.8,217.3 324.9,218.5 327.1,219.6 329.2,220.7 331.3,221.8 333.5,222.9 335.6,224.1 337.8,225.2 339.9,226.3 342.0,227.4 344.2,228.6 346.3,229.7 348.4,230.8 350.6,231.9 352.7,233.1 354.9,234.2 357.0,235.4 359.1,236.5 361.3,237.7 363.4,238.8 365.6,240.0 367.7,241.1 369.8,242.3 372.0,243.5 374.1,244.6 376.3,245.8 378.4,247.0 380.5,248.1 382.7,249.3 384.8,250.4 387.0,251.6 389.1,252.7 391.2,253.9 393.4,255.0 395.5,256.1 397.6,257.2 399.8,258.3 401.9,259.4 404.1,260.5 406.2,261.6 408.3,262.6 410.5,263.6 412.6,264.6 414.8,265.6 416.9,266.6 419.0,267.6 421.2,268.5 423.3,269.5 425.5,270.4 427.6,271.3 429.7,272.2 431.9,273.1 434.0,274.0 436.1,274.8 438.3,275.7 440.4,276.6 442.6,277.4 444.7,278.2 446.8,279.1 449.0,279.9 451.1,280.7 453.3,281.5 455.4,282.3 457.5,283.1 459.7,283.9 461.8,284.7 464.0,285.5 466.1,286.4 468.2,287.2 470.4,288.0 472.5,288.9 474.6,289.8 476.8,290.7 478.9,291.6 481.1,292.5 483.2,293.5 485.3,294.5 487.5,295.5 489.6,296.6 491.8,297.7 493.9,298.8 496.1,300.0 498.2,301.2 500.4,302.4 502.6,303.7 504.7,305.0 506.9,306.3 509.1,307.6 511.2,308.9 513.4,310.3 515.6,311.7 517.7,313.1 519.9,314.4 522.1,315.8 524.3,317.2 526.4,318.6 528.6,319.9 530.8,321.3 532.9,322.6 535.1,323.9 537.3,325.2 539.4,326.4 541.6,327.7 543.8,328.9 545.9,330.1 548.1,331.2 550.3,332.4 552.4,333.5 554.6,334.6 556.8,335.7 558.9,336.8 561.1,337.9 563.3,338.9 565.4,340.0 567.6,341.0 569.8,342.0 571.9,343.0 574.1,344.0 576.3,345.0 578.5,346.1 580.6,347.1 582.8,348.1 585.0,349.1 587.1,350.1 589.3,351.1 591.5,352.1 593.6,353.1 595.8,354.2 598.0,355.2 600.1,356.3 602.3,357.4 604.5,358.5 606.6,359.6 608.8,360.8 611.0,362.0 613.1,363.2 615.3,364.4 617.5,365.7 619.6,367.0 621.8,368.3 624.0,369.7 626.1,371.1 628.3,372.5 630.5,374.0 632.7,375.5 634.8,377.0 637.0,378.6 639.2,380.2 641.3,381.8 643.5,383.4 645.7,385.0 647.8,386.7 650.0,388.3 652.2,389.9 654.3,391.6 656.5,393.2 658.7,394.9 660.8,396.5 663.0,398.1 665.2,399.8 667.3,401.4 669.5,402.9 671.7,404.5 673.8,406.1 676.0,407.6 678.2,409.1 680.3,410.6 682.5,412.1 684.7,413.6 686.9,415.1 689.0,416.6 691.2,418.1 693.4,419.6 695.5,421.0 697.7,422.5 699.9,424.0 702.0,425.5 704.2,427.0 706.4,428.5 708.5,430.0 710.7,431.5 712.9,433.1 715.0,434.6 717.2,436.2 719.4,437.7 721.5,439.3 723.7,440.9 725.9,442.5 728.0,444.2 730.2,445.8 732.4,447.4 734.5,449.1 736.7,450.8 738.9,452.5 741.1,454.2 743.2,455.9 745.4,457.6 747.6,459.4 749.7,461.1 751.9,462.9 754.1,464.7 756.2,466.5 758.4,468.3 760.6,470.2 762.7,472.0 764.9,473.8 767.1,475.7 769.2,477.5 771.4,479.4 773.6,481.2 775.7,483.1 777.9,484.9 780.1,486.8 782.2,488.6 784.4,490.4 786.6,492.2 788.7,494.0 790.9,495.7 793.1,497.5 795.3,499.2 797.4,500.9 799.6,502.6 801.8,504.2 803.9,505.9 806.1,507.5 808.3,509.1 810.4,510.7 812.6,512.3 814.8,513.9 816.9,515.5 819.1,517.1 821.3,518.7 823.4,520.3 825.6,521.9 827.8,523.6 829.9,525.3 832.1,527.0 834.3,528.7 836.4,530.5 838.6,532.2 840.8,534.1 842.9,536.0 845.1,537.9 847.3,539.8 849.5,541.8 851.6,543.9 853.8,546.0 856.0,548.1 858.1,550.2 860.3,552.4 862.5,554.6 864.6,556.8 866.8,559.0 869.0,561.3 871.1,563.6 873.3,565.9 875.5,568.3 877.6,570.6 879.8,573.0 882.0,575.4 884.1,577.8 886.3,580.3 888.5,582.7 890.6,585.1 892.8,587.6 895.0,590.0 897.1,592.5 899.3,595.0 901.5,597.4 903.7,599.9 905.8,602.3 908.0,604.8 910.2,607.2 912.3,609.6 914.5,612.0 916.7,614.4 918.8,616.8 921.0,619.2 923.2,621.5 925.3,623.8 927.5,626.1 929.6,628.4 931.8,630.6 933.9,632.8 936.1,635.0 938.2,637.2 940.4,639.4 942.5,641.5 944.6,643.7 946.8,645.9 948.9,648.1 951.1,650.3 953.2,652.5 955.3,654.7 957.5,657.0 959.6,659.3 961.8,661.6 963.9,664.0 966.1,666.4 968.2,668.8 970.3,671.3 972.5,673.9 974.6,676.5 976.8,679.2 978.9,681.9 981.1,684.6 983.2,687.4 985.3,690.2 987.5,693.0 989.6,695.9 991.8,698.8 993.9,701.8 996.0,704.7 998.2,707.7 1000.3,710.6 1002.5,713.6 1004.6,716.6 1006.8,719.6 1008.9,722.7 1011.0,725.7 1013.2,728.7 1015.3,731.7 1017.5,734.6 1019.6,737.6 1021.7,740.6 1023.9,743.6 1026.0,746.6 1028.2,749.5 1030.3,752.5 1032.5,755.5 1034.6,758.5 1036.7,761.5 1038.9,764.5 1041.0,767.5 1043.2,770.5 1045.3,773.6 1047.5,776.6 1049.6,779.7 1051.7,782.8 1053.9,785.9 1056.0,789.0 1058.2,792.1 1060.3,795.3 1062.4,798.5 1064.6,801.7 1066.7,804.9 1068.9,808.1 1071.0,811.4 1073.2,814.7 1075.3,818.0 1077.4,821.4 1079.6,824.8 1081.7,828.2 1083.9,831.7 1086.0,835.2 1088.2,838.7 1090.3,842.2 1092.4,845.8 1094.6,849.5 1096.7,853.2 1098.9,856.9 1101.0,860.6 1103.1,864.4 1105.3,868.3 1107.4,872.1 1109.6,876.0 1111.7,880.0 1113.9,884.0 1116.0,888.1 1118.1,892.1 1120.3,896.3 1122.4,900.4 1124.6,904.6 1126.7,908.9 1128.8,913.2 1131.0,917.5 1133.1,921.9 1135.3,926.3 1137.4,930.8 1139.6,935.3 1141.7,939.8 1143.9,944.4 1146.0,949.0 1148.2,953.7 1150.4,958.3 1152.5,963.0 1154.7,967.7 1156.9,972.4 1159.1,977.1 1161.2,981.8 1163.4,986.4 1165.6,991.0 1167.7,995.6 1169.9,1000.2 1172.1,1004.7 1174.2,1009.1 1176.4,1013.5 1178.6,1017.8 1180.7,1022.1 1182.9,1026.2 1185.1,1030.3 1187.2,1034.3 1189.4,1038.2 1191.6,1042.0 1193.8,1045.8 1195.9,1049.4 1198.1,1053.1 1200.3,1056.7 1202.4,1060.3 1204.6,1063.8 1206.8,1067.3 1208.9,1070.9 1211.1,1074.4 1213.3,1078.0 1215.4,1081.6 1217.6,1085.2 1219.8,1088.9 1222.0,1092.6 1224.1,1096.4 1226.3,1100.3 1228.5,1104.2 1230.6,1108.3 1232.8,1112.4 1235.0,1116.6 1237.1,1120.9 1239.3,1125.3 1241.5,1129.7 1243.6,1134.2 1245.8,1138.7 1248.0,1143.3 1250.2,1148.0 1252.3,1152.7 1254.5,1157.4 1256.7,1162.2 1258.8,1167.0 1261.0,1171.9 1263.2,1176.7 1265.3,1181.6 1267.5,1186.5 1269.7,1191.3 1271.8,1196.2 1274.0,1201.1 1276.2,1206.0 1278.3,1210.9 1280.5,1215.7 1282.7,1220.5 1284.9,1225.3 1287.0,1230.1 1289.2,1234.9 1291.4,1239.6 1293.5,1244.3 1295.7,1248.9 1297.9,1253.5 1300.0,1258.1 1302.2,1262.6 1304.4,1267.0 1306.5,1271.4 1308.7,1275.7 1310.9,1280.0 1313.1,1284.1 1315.2,1288.2 1317.4,1292.3 1319.6,1296.2 1321.7,1300.1 1323.9,1303.9 1326.1,1307.7 1328.2,1311.5 1330.4,1315.1 1332.6,1318.8 1334.7,1322.4 1336.9,1326.0 1339.1,1329.6 1341.2,1333.2 1343.4,1336.8 1345.6,1340.3 1347.8,1343.9 1349.9,1347.5 1352.1,1351.1 1354.3,1354.8 1356.4,1358.4 1358.6,1362.1 1360.8,1365.9 1362.9,1369.7 1365.1,1373.5 1367.3,1377.4 1369.4,1381.2 1371.6,1385.1 1373.8,1389.1 1375.9,1393.0 1378.1,1396.9 1380.3,1400.8 1382.4,1404.8 1384.6,1408.7 1386.8,1412.6 1388.9,1416.5 1391.1,1420.3 1393.3,1424.2 1395.4,1427.9 1397.6,1431.7 1399.8,1435.4 1401.9,1439.1 1404.1,1442.7 1406.3,1446.2 1408.4,1449.7 1410.6,1453.2 1412.8,1456.6 1414.9,1459.9 1417.1,1463.2 1419.3,1466.5 1421.4,1469.7 1423.6,1472.9 1425.8,1476.0 1427.9,1479.1 1430.1,1482.1 1432.3,1485.2 1434.4,1488.1 1436.6,1491.0 1438.8,1493.9 1440.9,1496.8 1443.1,1499.6 1445.3,1502.4 1447.4,1505.2 1449.6,1507.9 1451.8,1510.6 1453.9,1513.3 1456.1,1516.0 1458.3,1518.6 1460.4,1521.2 1462.6,1523.8 1464.8,1526.4 1467.0,1529.0 1469.1,1531.6 1471.3,1534.2 1473.5,1536.8 1475.6,1539.4 1477.8,1542.0 1480.0,1544.6 1482.1,1547.2 1484.3,1549.9 1486.5,1552.5 1488.6,1555.2 1490.8,1557.9 1493.0,1560.6 1495.1,1563.3 1497.3,1566.1 1499.5,1568.8 1501.6,1571.5 1503.8,1574.3 1506.0,1577.0 1508.1,1579.7 1510.3,1582.3 1512.5,1585.0 1514.6,1587.6 1516.8,1590.1 1519.0,1592.7 1521.1,1595.1 1523.3,1597.5 1525.5,1599.9 1527.6,1602.2 1529.8,1604.4 1532.0,1606.5 1534.1,1608.5 1536.3,1610.5 1538.5,1612.4 1540.6,1614.2 1542.8,1616.0 1545.0,1617.6 1547.1,1619.2 1549.3,1620.8 1551.5,1622.3 1553.6,1623.7 1555.8,1625.0 1558.0,1626.3 1560.1,1627.6 1562.3,1628.8 1564.5,1630.0 1566.6,1631.1 1568.8,1632.2 1571.0,1633.2 1573.1,1634.2 1575.3,1635.1 1577.4,1636.1 1579.6,1637.0 1581.7,1637.9 1583.9,1638.7 1586.0,1639.5 1588.2,1640.3 1590.3,1641.1 1592.4,1641.8 1594.6,1642.5 1596.7,1643.2 1598.9,1643.8 1601.0,1644.5 1603.2,1645.1 1605.3,1645.6 1607.4,1646.2 1609.6,1646.8 1611.7,1647.3 1613.9,1647.8 1616.0,1648.3 1618.2,1648.7 1620.3,1649.2 1622.4,1649.6 1624.6,1650.0 1626.7,1650.4 1628.9,1650.8 1631.0,1651.2 1633.2,1651.6 1635.3,1651.9 1637.4,1652.3 1639.6,1652.6 1641.7,1653.0 1643.9,1653.3 1646.0,1653.7 1648.2,1654.0 1650.3,1654.4 1652.4,1654.7 1654.6,1655.1 1656.7,1655.5 1658.9,1655.9 1661.0,1656.3 1663.2,1656.7 1665.3,1657.1 1667.4,1657.5 1669.6,1657.9 1671.7,1658.4 1673.9,1658.8 1676.0,1659.3 1678.2,1659.7 1680.3,1660.2 1682.5,1660.6 1684.6,1661.1 1686.7,1661.5 1688.9,1661.9 1691.0,1662.3 1693.2,1662.7 1695.3,1663.1 1697.5,1663.5 1699.6,1663.9 1701.7,1664.2 1703.9,1664.6 1706.0,1664.9 1708.2,1665.2 1710.3,1665.4 1712.5,1665.7 1714.6,1665.9 1716.7,1666.1 1718.9,1666.3 1721.0,1666.5 1723.2,1666.7 1725.3,1666.9 1727.5,1667.0 1729.6,1667.2 1731.7,1667.3 1733.9,1667.5 1736.0,1667.6 1738.2,1667.8 1740.3,1667.9 1742.5,1668.0 1744.6,1668.2 1746.7,1668.3 1748.9,1668.5 1751.0,1668.6 1753.2,1668.8 1755.3,1668.9 1757.5,1669.1 1759.6,1669.2 1761.7,1669.4 1763.9,1669.6 1766.0,1669.7 1768.2,1669.9 1770.3,1670.0 1772.5,1670.2 1774.6,1670.3 1776.7,1670.5 1778.9,1670.6 1781.0,1670.8 1783.2,1670.9 1785.3,1671.1 1787.5,1671.2 1789.6,1671.3 1791.8,1671.5 1793.9,1671.6 1796.1,1671.7 1798.3,1671.8 1800.4,1671.9 1802.6,1672.0 1804.8,1672.2 1806.9,1672.3 1809.1,1672.4 1811.3,1672.5 1813.4,1672.6 1815.6,1672.7 1817.8,1672.8 1819.9,1672.9 1822.1,1673.0 1824.3,1673.1 1826.4,1673.2 1828.6,1673.4 1830.8,1673.5 1832.9,1673.6 1835.1,1673.7 1837.3,1673.9 1839.4,1674.0 1841.6,1674.2 1843.8,1674.3 1845.9,1674.5 1848.1,1674.6 1850.2,1674.8 1852.4,1675.0 1854.6,1675.1 1856.7,1675.3 1858.9,1675.4 1861.1,1675.6 1863.2,1675.7 1865.4,1675.9 1867.6,1676.1 1869.7,1676.2 1871.9,1676.3 1874.1,1676.5 1876.2,1676.6 1878.4,1676.8 1880.6,1676.9 1882.7,1677.0 1884.9,1677.1 1887.1,1677.2 1889.2,1677.3 1891.4,1677.5 1893.6,1677.6 1895.7,1677.7 1897.9,1677.8 1900.1,1677.9 1902.2,1678.0 1904.4,1678.1 1906.6,1678.2 1908.7,1678.3 1910.9,1678.4 1913.1,1678.5 1915.2,1678.6 1917.4,1678.8 1919.6,1678.9 1921.7,1679.0 1923.9,1679.1 1926.1,1679.3 1928.2,1679.4 1930.4,1679.6 1932.6,1679.7 1934.7,1679.9 1936.9,1680.0 1939.1,1680.2 1941.2,1680.3 1943.4,1680.5 1945.6,1680.6 1947.7,1680.8 1949.9,1680.9 1952.1,1681.1 1954.2,1681.3 1956.4,1681.4 1958.5,1681.6 1960.7,1681.7 1962.9,1681.9 1965.0,1682.1 1967.2,1682.2 1969.4,1682.4 1971.5,1682.5 1973.7,1682.7 1975.9,1682.8 1978.0,1683.0 1980.2,1683.1 1982.4,1683.3 1984.5,1683.4 1986.7,1683.6 1988.9,1683.7 1991.0,1683.9 1993.2,1684.0 1995.4,1684.2 1997.5,1684.3 1999.7,1684.5 2001.9,1684.6 2004.0,1684.8 2006.2,1684.9 2008.4,1685.1 2010.5,1685.2 2012.7,1685.4 2014.9,1685.5 2017.0,1685.6 2019.2,1685.8 2021.4,1685.9 2023.5,1686.1 2025.7,1686.2 2027.9,1686.4 2030.0,1686.5 2032.2,1686.7 2034.4,1686.8 2036.6,1687.0 2038.7,1687.1 2040.9,1687.3 2043.1,1687.4 2045.2,1687.6 2047.4,1687.8 2049.6,1687.9 2051.7,1688.1 2053.9,1688.3 2056.1,1688.4 2058.2,1688.6 2060.4,1688.8 2062.6,1689.0 2064.7,1689.1 2066.9,1689.3 2069.1,1689.5 2071.2,1689.6 2073.4,1689.8 2075.6,1690.0 2077.7,1690.1 2079.9,1690.2 2082.1,1690.4 2084.2,1690.5 2086.4,1690.6 2088.6,1690.8 2090.8,1690.9 2092.9,1691.0 2095.1,1691.0 2097.3,1691.1 2099.4,1691.2 2101.6,1691.2 2103.8,1691.3 2105.9,1691.3 2108.1,1691.4 2110.3,1691.4 2112.4,1691.4 2114.6,1691.5 2116.8,1691.5 2118.9,1691.5 2121.1,1691.5 2123.3,1691.6 2125.4,1691.6 2127.6,1691.6 2129.8,1691.6 2131.9,1691.6 2134.1,1691.7 2136.3,1691.7 2138.4,1691.7 2140.6,1691.8 2142.8,1691.8 2145.0,1691.9 2147.1,1691.9 2149.3,1692.0 2151.5,1692.1 2153.6,1692.1 2155.8,1692.2 2158.0,1692.3 2160.1,1692.3 2162.3,1692.4 2164.5,1692.5 2166.6,1692.6 2168.8,1692.7 2171.0,1692.8 2173.1,1692.9 2175.3,1693.0 2177.5,1693.1 2179.6,1693.2 2181.8,1693.3 2184.0,1693.4 2186.1,1693.6 2188.3,1693.7 2190.5,1693.8 2192.6,1693.9 2194.8,1694.1 2197.0,1694.2 2199.2,1694.3 2201.3,1694.4 2203.5,1694.5 2205.7,1694.7 2207.8,1694.8 2210.0,1694.9 2212.2,1695.0 2214.3,1695.1 2216.5,1695.2 2218.7,1695.3 2220.8,1695.4 2223.0,1695.5 2225.1,1695.6 2227.3,1695.6 2229.4,1695.7 2231.6,1695.8 2233.7,1695.8 2235.9,1695.9 2238.0,1695.9 2240.1,1696.0 2242.3,1696.0 2244.4,1696.0 2246.6,1696.1 2248.7,1696.1 2250.8,1696.1 2253.0,1696.2 2255.1,1696.2 2257.3,1696.2 2259.4,1696.2 2261.6,1696.2 2263.7,1696.2 2265.8,1696.2 2268.0,1696.2 2270.1,1696.2 2272.3,1696.3 2274.4,1696.3 2276.6,1696.3 2278.7,1696.3 2280.8,1696.3 2283.0,1696.3 2285.1,1696.3 2287.3,1696.3 2289.4,1696.3 2291.5,1696.3 2293.7,1696.3 2295.8,1696.2 2298.0,1696.2 2300.1,1696.2 2302.3,1696.2 2304.4,1696.2 2306.5,1696.2 2308.7,1696.2 2310.8,1696.2 2313.0,1696.2 2315.1,1696.2 2317.2,1696.2 2319.4,1696.2 2321.5,1696.2 2323.7,1696.2 2325.8,1696.2 2328.0,1696.2 2330.1,1696.2 2332.2,1696.2 2334.4,1696.2 2336.5,1696.2 2338.7,1696.2 2340.8,1696.2 2343.0,1696.2 2345.1,1696.2 2347.2,1696.2 2349.4,1696.2 2351.5,1696.2 2353.7,1696.2 2355.8,1696.2 2357.9,1696.2 2360.1,1696.2 2362.2,1696.2 2364.4,1696.2 2366.5,1696.2 2368.7,1696.2 2370.8,1696.2 2372.9,1696.2 2375.1,1696.2 2377.2,1696.2 2379.4,1696.2 2381.5,1696.2 2383.7,1696.2 2385.8,1696.2 2387.9,1696.2 2390.1,1696.2 2392.2,1696.2 2394.4,1696.2 2396.5,1696.2 2398.6,1696.2 2400.8,1696.2 2402.9,1696.2 2405.1,1696.2 2407.2,1696.2 2409.4,1696.2 2411.5,1696.2 2413.6,1696.2 2415.8,1696.2 2417.9,1696.2 2420.1,1696.2 2422.2,1696.2 2424.3,1696.2 2426.5,1696.2 2428.6,1696.2 2430.8,1696.2 2432.9,1696.2 2435.1,1696.2 2437.2,1696.2"/>
</g>
<g fill="none" stroke-width="14.3" stroke-linecap="round">
<line x1="1797.0" y1="206.6" x2="2005.0" y2="206.6" stroke="#feb078"/>
<line x1="1797.0" y1="320.7" x2="2005.0" y2="320.7" stroke="#b63679"/>
<line x1="1797.0" y1="437.8" x2="2005.0" y2="437.8" stroke="#2c115f"/>
</g>
<g stroke="#000" fill="none" stroke-linecap="butt">
<line x1="280.0" y1="34.0" x2="280.0" y2="71.0" stroke-width="5.8"/>
<line x1="280.0" y1="1809.0" x2="280.0" y2="1843.0" stroke-width="5.8"/>
<line x1="493.9" y1="34.0" x2="493.9" y2="54.0" stroke-width="5.8"/>
<line x1="493.9" y1="1826.0" x2="493.9" y2="1843.0" stroke-width="5.8"/>
<line x1="710.7" y1="34.0" x2="710.7" y2="71.0" stroke-width="5.8"/>
<line x1="710.7" y1="1809.0" x2="710.7" y2="1843.0" stroke-width="5.8"/>
<line x1="927.5" y1="34.0" x2="927.5" y2="54.0" stroke-width="5.8"/>
<line x1="927.5" y1="1826.0" x2="927.5" y2="1843.0" stroke-width="5.8"/>
<line x1="1141.7" y1="34.0" x2="1141.7" y2="71.0" stroke-width="5.8"/>
<line x1="1141.7" y1="1809.0" x2="1141.7" y2="1843.0" stroke-width="5.8"/>
<line x1="1358.6" y1="34.0" x2="1358.6" y2="54.0" stroke-width="5.8"/>
<line x1="1358.6" y1="1826.0" x2="1358.6" y2="1843.0" stroke-width="5.8"/>
<line x1="1575.3" y1="34.0" x2="1575.3" y2="71.0" stroke-width="5.8"/>
<line x1="1575.3" y1="1809.0" x2="1575.3" y2="1843.0" stroke-width="5.8"/>
<line x1="1789.6" y1="34.0" x2="1789.6" y2="54.0" stroke-width="5.8"/>
<line x1="1789.6" y1="1826.0" x2="1789.6" y2="1843.0" stroke-width="5.8"/>
<line x1="2006.2" y1="34.0" x2="2006.2" y2="71.0" stroke-width="5.8"/>
<line x1="2006.2" y1="1809.0" x2="2006.2" y2="1843.0" stroke-width="5.8"/>
<line x1="2223.0" y1="34.0" x2="2223.0" y2="54.0" stroke-width="5.8"/>
<line x1="2223.0" y1="1826.0" x2="2223.0" y2="1843.0" stroke-width="5.8"/>
<line x1="2437.2" y1="34.0" x2="2437.2" y2="71.0" stroke-width="5.8"/>
<line x1="2437.2" y1="1809.0" x2="2437.2" y2="1843.0" stroke-width="5.8"/>
<line x1="237.0" y1="1695.0" x2="254.0" y2="1695.0" stroke-width="5.3"/>
<line x1="2463.0" y1="1695.0" x2="2480.0" y2="1695.0" stroke-width="5.3"/>
<line x1="237.0" y1="1543.7" x2="271.0" y2="1543.7" stroke-width="5.3"/>
<line x1="2446.0" y1="1543.7" x2="2480.0" y2="1543.7" stroke-width="5.3"/>
<line x1="237.0" y1="1392.3" x2="254.0" y2="1392.3" stroke-width="5.3"/>
<line x1="2463.0" y1="1392.3" x2="2480.0" y2="1392.3" stroke-width="5.3"/>
<line x1="237.0" y1="1241.1" x2="271.0" y2="1241.1" stroke-width="5.3"/>
<line x1="2446.0" y1="1241.1" x2="2480.0" y2="1241.1" stroke-width="5.3"/>
<line x1="237.0" y1="1089.8" x2="254.0" y2="1089.8" stroke-width="5.3"/>
<line x1="2463.0" y1="1089.8" x2="2480.0" y2="1089.8" stroke-width="5.3"/>
<line x1="237.0" y1="938.7" x2="271.0" y2="938.7" stroke-width="5.3"/>
<line x1="2446.0" y1="938.7" x2="2480.0" y2="938.7" stroke-width="5.3"/>
<line x1="237.0" y1="790.1" x2="254.0" y2="790.1" stroke-width="5.3"/>
<line x1="2463.0" y1="790.1" x2="2480.0" y2="790.1" stroke-width="5.3"/>
<line x1="237.0" y1="639.1" x2="271.0" y2="639.1" stroke-width="5.3"/>
<line x1="2446.0" y1="639.1" x2="2480.0" y2="639.1" stroke-width="5.3"/>
<line x1="237.0" y1="488.0" x2="254.0" y2="488.0" stroke-width="5.3"/>
<line x1="2463.0" y1="488.0" x2="2480.0" y2="488.0" stroke-width="5.3"/>
<line x1="237.0" y1="336.6" x2="271.0" y2="336.6" stroke-width="5.3"/>
<line x1="2446.0" y1="336.6" x2="2480.0" y2="336.6" stroke-width="5.3"/>
<line x1="237.0" y1="185.2" x2="254.0" y2="185.2" stroke-width="5.3"/>
<line x1="2463.0" y1="185.2" x2="2480.0" y2="185.2" stroke-width="5.3"/>
</g>
<g stroke="#000" stroke-width="6.0" fill="none" stroke-linecap="butt">
<line x1="237.0" y1="31.0" x2="237.0" y2="1849.0"/>
<line x1="2480.0" y1="31.0" x2="2480.0" y2="1849.0"/>
<line x1="234.0" y1="34.0" x2="2486.0" y2="34.0"/>
<line x1="234.0" y1="1843.0" x2="2486.0" y2="1843.0"/>
</g>
<g font-family="'Liberation Serif', 'Times New Roman', serif" fill="#000">
<text x="201.0" y="1875.9" font-size="79" text-anchor="end" letter-spacing="0" stroke="#fff" stroke-width="1.5" paint-order="fill stroke" stroke-linejoin="round">0</text>
<text x="201.0" y="1574.5" font-size="79" text-anchor="end" letter-spacing="0" stroke="#fff" stroke-width="1.5" paint-order="fill stroke" stroke-linejoin="round">2</text>
<text x="201.0" y="1271.9" font-size="79" text-anchor="end" letter-spacing="0" stroke="#fff" stroke-width="1.5" paint-order="fill stroke" stroke-linejoin="round">4</text>
<text x="201.0" y="969.5" font-size="79" text-anchor="end" letter-spacing="0" stroke="#fff" stroke-width="1.5" paint-order="fill stroke" stroke-linejoin="round">6</text>
<text x="201.0" y="669.9" font-size="79" text-anchor="end" letter-spacing="0" stroke="#fff" stroke-width="1.5" paint-order="fill stroke" stroke-linejoin="round">8</text>
<text x="203.6" y="367.4" font-size="79" text-anchor="end" letter-spacing="2.6" stroke="#fff" stroke-width="1.5" paint-order="fill stroke" stroke-linejoin="round">10</text>
<text x="203.6" y="65.7" font-size="79" text-anchor="end" letter-spacing="2.6" stroke="#fff" stroke-width="1.5" paint-order="fill stroke" stroke-linejoin="round">12</text>
<text x="280.8" y="1948.7" font-size="79" text-anchor="middle" stroke="#fff" stroke-width="1.5" paint-order="fill stroke" stroke-linejoin="round">0</text>
<text x="711.5" y="1948.7" font-size="79" text-anchor="middle" stroke="#fff" stroke-width="1.5" paint-order="fill stroke" stroke-linejoin="round">10</text>
<text x="1142.5" y="1948.7" font-size="79" text-anchor="middle" stroke="#fff" stroke-width="1.5" paint-order="fill stroke" stroke-linejoin="round">20</text>
<text x="1576.1" y="1948.7" font-size="79" text-anchor="middle" stroke="#fff" stroke-width="1.5" paint-order="fill stroke" stroke-linejoin="round">30</text>
<text x="2007.0" y="1948.7" font-size="79" text-anchor="middle" stroke="#fff" stroke-width="1.5" paint-order="fill stroke" stroke-linejoin="round">40</text>
<text x="2438.0" y="1948.7" font-size="79" text-anchor="middle" stroke="#fff" stroke-width="1.5" paint-order="fill stroke" stroke-linejoin="round">50</text>
<text x="1359.2" y="2076" font-size="94.2" text-anchor="middle">Iteration number</text>
<text transform="translate(80.2 937.6) rotate(-90)" font-size="96.2" text-anchor="middle">RMSE</text>
<text x="2026" y="235.4" font-size="94" letter-spacing="1.7">PSO</text>
<text x="2027.4" y="349.3" font-size="94">GA</text>
<text x="2027.3" y="466.8" font-size="94">LDA</text>
</g>
</svg>
</body>
</html>
